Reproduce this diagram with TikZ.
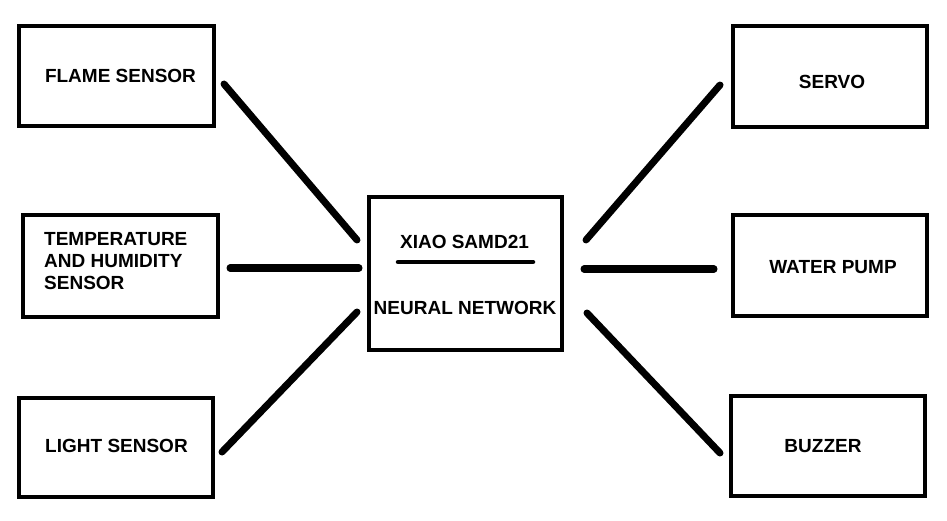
\documentclass[tikz,border=0pt]{standalone}
\usepackage{fontspec}
\setmainfont{Liberation Sans}
\begin{document}
\begin{tikzpicture}[x=1pt,y=-1pt,
  box/.style={draw,line width=4pt,minimum width=#1,inner sep=0pt},
  lbl/.style={font=\bfseries\fontsize{19}{22}\selectfont,inner sep=0pt,anchor=center},
  wire/.style={line width=7pt,line cap=round}]
\useasboundingbox (0,0) rectangle (947,521);
% boxes
\node[box=195pt,minimum height=100pt] (flame) at (116.5,76) {};
\node[box=195pt,minimum height=102pt] (temp) at (120.5,266) {};
\node[box=194pt,minimum height=99pt] (light) at (116,447.5) {};
\node[box=193pt,minimum height=153pt] (mcu) at (465.5,273.5) {};
\node[box=194pt,minimum height=101pt] (servo) at (830,76.5) {};
\node[box=194pt,minimum height=101pt] (pump) at (830,265.5) {};
\node[box=194pt,minimum height=100pt] (buzz) at (828,446) {};
% labels
\node[lbl] (tflame) at (120.5,76) {FLAME SENSOR};
\node[lbl,align=left,anchor=west] (ttemp) at (44,261) {TEMPERATURE\\AND HUMIDITY\\SENSOR};
\node[lbl] (tlight) at (116.5,446) {LIGHT SENSOR};
\node[lbl] (tmcu1) at (464.5,242) {XIAO SAMD21};
\node[lbl] (tmcu2) at (465,308) {NEURAL NETWORK};
\node[lbl] (tservo) at (832,82) {SERVO};
\node[lbl] (tpump) at (833,267) {WATER PUMP};
\node[lbl] (tbuzz) at (823,446) {BUZZER};
% underline
\coordinate (u1) at (398,262);
\coordinate (u2) at (533,262);
\draw[line width=4.5pt,line cap=round] (u1) -- (u2);
% connector end points
\coordinate (f1) at (224,84);  \coordinate (f2) at (357,240);
\coordinate (t1) at (230,268); \coordinate (t2) at (359,268);
\coordinate (l1) at (222,452); \coordinate (l2) at (357,312);
\coordinate (s1) at (720,85);  \coordinate (s2) at (586,240);
\coordinate (p1) at (714,269); \coordinate (p2) at (584,269);
\coordinate (b1) at (720,453); \coordinate (b2) at (587,313);
\draw[wire] (f1) -- (f2);
\draw[wire] (t1) -- (t2);
\draw[wire] (l1) -- (l2);
\draw[wire] (s1) -- (s2);
\draw[wire] (p1) -- (p2);
\draw[wire] (b1) -- (b2);
\end{tikzpicture}
\end{document}
